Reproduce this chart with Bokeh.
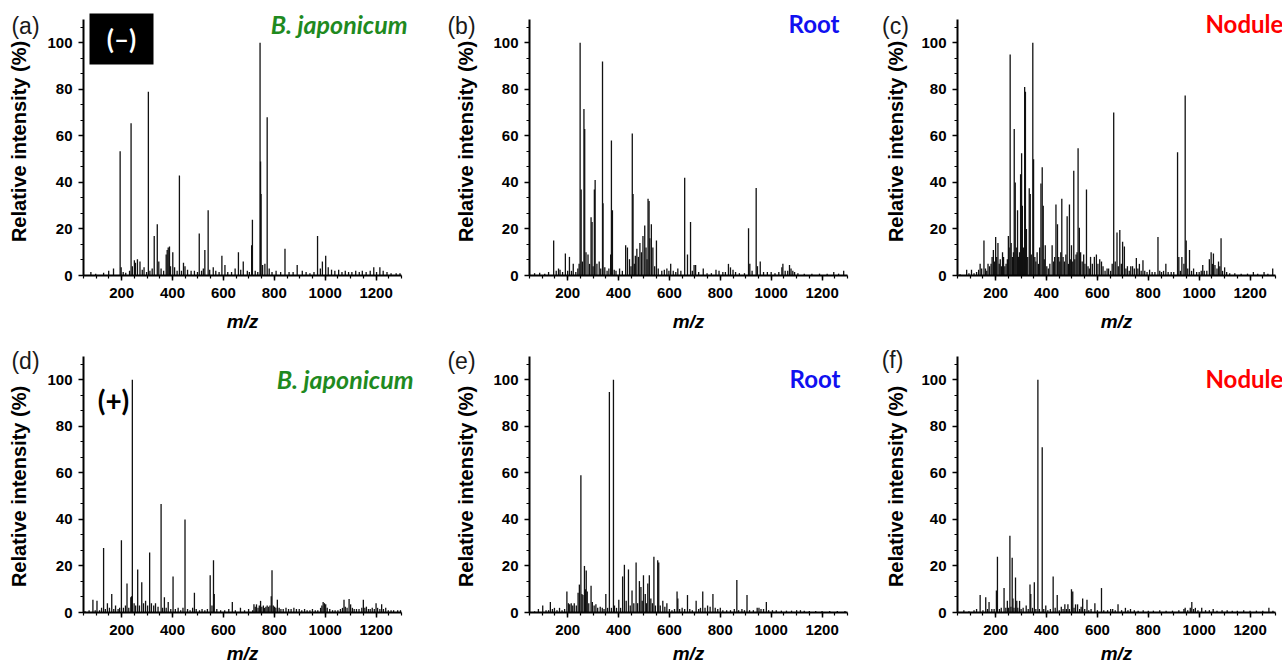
import math
from bokeh.plotting import figure
from bokeh.layouts import row, column
from bokeh.models import Range1d, FixedTicker, Label, BoxAnnotation, ColumnDataSource
from bokeh.embed import file_html
from bokeh.resources import INLINE

# ---------------- data: (m/z, relative intensity %) ----------------
PEAKS_A = [(79,1.5),(98,0.8),(129,1.2),(149,2),(168,3),(194,53.4),(198,3.5),(206,1.5),(216,1.2),(231,2),
           (237,65.4),(242,4),(250,6.5),(254,5.5),(262,7),(272,6),(281,2.5),(288,3.5),(298,1.5),(305,79),
           (311,2),(320,3),(328,17),(340,22),(346,6),(355,3),(365,2),(375,9),(379,11),(383,12),(388,12.5),
           (392,4),(401,10),(408,3.5),(418,2),(427,43),(435,2),(443,5.5),(449,4),(459,2.5),(473,2),(486,2),
           (498,1.5),(505,18),(514,2),(521,3),(527,11),(540,28),(546,2.5),(560,3.5),(570,2),(583,1.5),
           (594,8.5),(606,4.5),(617,1.5),(632,1.5),(646,3),(659,10),(668,2.5),(678,6),(694,2),(702,1.5),
           (711,13),(714,24),(725,2),(735,1.5),(744,100),(746,49),(748,35),(754,4.5),(763,5),(772,68),
           (780,3),(791,1.5),(807,2),(825,1.5),(842,11.5),(858,1.5),(874,1.5),(890,4.5),(910,2),(925,1.5),
           (940,1),(956,1.5),(970,17),(981,3),(989,6),(1002,8.5),(1012,3.5),(1025,2.5),(1038,2),(1053,2.5),
           (1066,1.5),(1079,2),(1092,1.5),(1105,1.5),(1120,2),(1134,1.5),(1146,2),(1161,1.5),(1177,2),
           (1191,3.5),(1202,1.5),(1215,3.5),(1228,2),(1243,1.5),(1259,1),(1279,1),(1294,1)]

PEAKS_B = [(70,1),(90,1.2),(110,0.8),(125,1.5),(145,15),(155,2),(164,3),(170,2.5),(180,1.5),(191,9.5),
           (200,2),(207,8),(215,2),(222,5),(232,1.5),(240,3),(245,5),(249,100),(253,37),(258,6),(264,71.5),
           (267,63),(272,10),(280,9),(286,5),(292,25),(296,23),(300,4),(305,37),(308,41),(315,5),(324,6),
           (330,3),(337,92),(339,31),(346,3.5),(355,2),(362,3),(369,9),(372,58),(376,28),(383,2.5),(390,2),
           (404,3),(415,2),(428,13),(435,12),(443,7),(449,4),(454,61),(457,35),(462,5),(466,8.5),(472,11.5),
           (478,8),(484,14),(490,10),(496,17),(503,21.5),(508,12),(512,7),(516,33),(520,32),(523,16),
           (529,22),(535,12),(542,4),(549,15),(556,3),(570,2),(580,2.5),(590,3),(598,2),(605,5),(615,2),
           (625,1.5),(633,3),(645,2),(660,42),(671,9),(683,23),(690,2),(697,4.5),(703,4.5),(715,1.5),
           (733,3),(748,1),(765,1),(783,2.5),(795,2),(810,1.5),(820,1.5),(832,5),(840,3.5),(850,2.5),
           (860,1.5),(875,1),(895,1),(911,20.3),(916,5),(925,2),(941,37.6),(946,4),(957,6),(970,1.5),
           (985,1.5),(1000,1.5),(1015,1),(1030,1.5),(1042,3.5),(1046,5),(1055,2),(1065,2),(1072,4.5),
           (1078,3),(1085,2),(1092,1.5),(1105,1),(1130,0.8),(1160,0.8),(1190,0.8),(1220,0.8),(1246,1.5),
           (1265,0.8),(1285,2)]

PEAKS_C = [(60,0.5),(86,2.5),(95,1),(105,2.5),(115,1),(125,1.5),(133,2.5),(139,5),(145,3),(154,15),
           (160,3),(165,2),(170,5),(176,4),(182,5),(186,8),(191,11),(196,6),(200,16.5),(204,8),(209,14),
           (214,5),(218,7),(223,4),(227,10),(231,8),(236,4),(241,5),(246,7),(250,17),(253,12),(257,95),
           (261,14),(266,8),(270,10),(273,63),(277,40),(281,12),(286,28),(290,8),(294,10),(298,43.5),
           (302,52.5),(305,30),(309,12),(314,81),(317,79),(321,20),(326,8),(332,37.5),(336,35),(340,9),
           (346,100),(349,50),(354,8),(358,6),(363,10),(368,5),(373,12),(378,39.5),(383,46.5),(387,30),
           (391,7),(395,13),(401,4),(407,3),(413,5),(422,13),(428,6),(432,8),(437,30.5),(443,22),(448,8),
           (452,6),(456,10),(460,33),(465,8),(470,6),(476,9),(481,25.5),(486,5),(490,30.5),(495,7),
           (498,13),(503,6),(507,45),(511,7),(516,9),(520,10),(524,54.7),(529,20.5),(534,10),(540,6),
           (546,9),(551,5),(557,37),(563,4),(568,3),(573,8),(580,5),(588,8),(596,9),(602,5),(609,7),
           (616,6),(622,4),(630,2),(638,3),(644,3),(652,2),(658,5),(664,70),(670,6),(677,18.5),(682,4),
           (688,19.5),(694,5),(699,14.5),(706,12.5),(712,3),(718,4),(725,2),(731,4),(738,4),(745,3),
           (753,7.5),(759,3),(765,5),(772,2),(779,6.5),(786,2),(795,1.5),(805,2.5),(815,1.5),(826,1.5),
           (838,16.5),(845,2),(852,1.5),(860,2),(869,5),(878,1.5),(890,1.5),(900,1.5),(915,53),(920,8),
           (926,2),(932,8),(940,5),(945,77.3),(949,15),(955,3),(962,11),(970,2),(978,3),(990,1.5),
           (1000,1.5),(1008,2),(1014,4.5),(1020,2),(1030,2),(1040,7),(1047,10),(1052,5),(1056,9.5),
           (1062,4.5),(1070,3),(1076,6),(1081,4),(1086,16),(1092,2),(1100,3.5),(1108,1.5),(1120,1),
           (1140,1),(1165,0.8),(1190,0.8),(1213,1.5),(1230,0.8),(1255,1.5),(1270,0.8),(1289,3)]

PEAKS_D = [(56,0.5),(72,1),(87,5.5),(96,1),(103,5),(113,1),(121,2),(129,27.7),(136,1.5),(144,4),
           (152,2),(161,8),(169,1.5),(176,3),(186,1.5),(192,2),(199,31),(207,2),(215,3),(221,12.5),
           (228,2),(236,6.5),(239,7),(242,100),(249,4),(255,3),(263,18.5),(270,3),(279,13),(286,4),
           (294,5),(302,3),(310,25.8),(317,4),(326,3),(333,4),(343,2.5),(355,46.6),(361,2),(368,6.5),
           (375,2),(383,4.5),(393,1.5),(402,15.5),(411,1.5),(422,2),(432,1),(441,2),(449,40),(459,1.5),
           (469,1),(479,2),(486,8.5),(493,1.5),(506,1),(516,1.5),(527,1),(537,1.5),(548,16),(555,3),
           (561,22.4),(564,8),(574,1.5),(589,1),(605,1),(621,1.5),(635,4.5),(647,1),(667,2),(683,1),
           (699,1.5),(715,1),(720,3.5),(725,2.5),(730,3.5),(736,2),(741,3),(746,5),(751,2.5),(757,3),
           (762,2),(767,2.5),(772,3),(778,2.5),(783,3),(788,7),(791,18.2),(796,3),(801,2.5),(806,2),
           (812,5.5),(819,2),(826,1.5),(835,1.5),(846,2),(856,1.5),(866,1.5),(877,2),(887,1.5),(898,1.5),
           (908,1),(919,1.5),(929,1),(940,1),(950,1.5),(961,1),(971,1),(982,2),(987,3),(992,4.5),(997,4),
           (1002,3.5),(1008,2),(1018,1.5),(1029,1),(1039,1),(1050,1),(1060,1.5),(1068,2),(1074,5.5),
           (1079,2.5),(1086,2),(1094,5.8),(1100,3.5),(1107,2),(1114,1.5),(1123,1.5),(1133,1.5),(1144,2),
           (1150,5.5),(1156,2),(1162,2.5),(1170,1.5),(1177,1.5),(1185,2),(1193,1.5),(1200,4),(1206,2),
           (1215,1.5),(1222,3.5),(1229,1.5),(1238,2),(1248,1),(1259,1),(1269,1),(1285,1),(1296,1)]

PEAKS_E = [(70,0.5),(85,1.5),(102,3),(115,1),(125,1),(132,4.5),(140,1.5),(148,2),(158,1),(168,2),
           (178,1),(188,1.5),(197,9),(203,4),(208,3.5),(214,4),(220,3),(226,4),(234,3),(241,8.5),
           (246,12),(252,59),(256,8),(260,7.5),(266,20),(270,10),(273,18),(277,9),(283,4),(292,11.5),
           (297,4.5),(304,3),(311,3.5),(318,2),(328,2.5),(336,2),(343,1.5),(350,8),(357,2),(364,94.7),
           (372,2),(380,100),(384,3),(392,2),(401,5.5),(408,2),(416,15.5),(423,20.5),(430,5),(439,18.5),
           (446,3),(453,9.5),(460,4),(469,21.5),(475,4),(482,13.5),(488,11),(493,5),(498,16),(505,8),
           (510,4),(515,12.5),(521,16),(527,6),(533,4),(539,24),(545,3),(554,22.5),(558,21.5),(564,3),
           (574,5),(582,2.5),(590,4),(600,1.5),(610,1),(620,1.5),(630,9),(633,6),(640,1.5),(650,2),
           (660,1.5),(671,7.5),(680,1.5),(690,1),(705,5),(715,1.5),(722,2),(731,9),(740,2),(750,3),
           (760,2.5),(771,8),(780,2),(790,1.5),(800,2),(810,1),(825,1),(840,1),(855,1.5),(865,14),
           (872,1),(885,1.5),(895,1),(905,7.5),(915,1),(930,1),(945,2),(952,2),(960,1.5),(970,1.5),
           (981,4.5),(990,1),(1005,1),(1020,1),(1040,0.8),(1060,0.8),(1080,0.8),(1100,1),(1115,1),
           (1130,0.8),(1150,0.6),(1175,0.6),(1200,0.6),(1230,0.6),(1260,0.6),(1290,0.6)]

PEAKS_F = [(75,1),(95,0.5),(115,1),(125,1.5),(139,7.5),(150,1),(161,6.5),(168,1.5),(174,4.5),(185,1.5),
           (194,1.5),(203,9.5),(207,24),(215,1.5),(222,2),(233,10.5),(240,2),(246,5),(251,2),(256,33),
           (260,2.5),(265,23.5),(268,6),(272,2),(278,15),(283,5),(287,2),(294,5),(300,1.5),(308,2),
           (320,3),(328,1.5),(335,12),(338,8),(345,2),(352,13),(358,1.5),(366,100),(372,1.5),(383,71),
           (389,1.5),(397,3),(405,1),(415,1.5),(426,15.5),(434,2),(442,7.5),(450,1),(458,2.5),(465,1.5),
           (472,3.5),(478,1.5),(484,3.5),(490,1.5),(498,10),(503,9),(508,2),(514,3.5),(522,3.5),
           (530,1.5),(536,2.5),(542,6),(550,1.5),(559,5.5),(566,1),(575,1.5),(590,4),(600,1),(616,10.5),
           (625,1),(640,1),(652,1.5),(660,1.5),(670,1),(681,3.5),(695,1),(710,2),(720,1),(730,1.5),
           (745,1),(760,0.8),(780,1),(800,0.8),(820,0.8),(845,1),(870,0.8),(895,0.8),(920,1),(940,1.5),
           (945,2),(955,1),(965,2),(971,4.5),(978,1.5),(985,2),(995,1),(1010,2),(1025,1),(1040,1),
           (1055,1.5),(1070,0.8),(1090,1),(1110,1),(1130,0.8),(1150,0.8),(1175,1),(1200,0.8),(1225,0.8),
           (1250,0.8),(1274,2),(1290,0.8)]

PANEL_LABELS = ["(a)", "(b)", "(c)", "(d)", "(e)", "(f)"]
TITLES = ["B. japonicum", "Root", "Nodule", "B. japonicum", "Root", "Nodule"]
TITLE_COLORS = ["#1F8A1F", "#1010F0", "#FF0000", "#1F8A1F", "#1010F0", "#FF0000"]
MODE_LABELS = ["(\u2013)", "(+)"]
X_MAJOR = [200, 400, 600, 800, 1000, 1200]
Y_MAJOR = [0, 20, 40, 60, 80, 100]
X_LABEL = "m/z"
Y_LABEL = "Relative intensity (%)"

# ---------------- layout (pixels) ----------------
FONT = "Liberation Sans"
TFONT = "Lato"
XMIN, XMAX = 50, 1300
YAX_MAX = 110
S = 318 / (XMAX - XMIN)      # px per m/z unit
T = 256 / 110                # px per % unit

COL_W = [430, 430, 422]
COL_L = [83, 99, 97]         # y-axis position inside each figure
ROW_H = [334, 329]
ROW_Y0 = [275, 278]          # y=0 position inside each figure

LETTER_POS = [[(25, 25), (31, 25), (35, 25)], [(25, 26), (31, 26), (32, 25)]]
TITLE_CY = [23, 44]
TITLE_ANCHOR = [(407, "right"), (409, "right"), (345, "left")]
TITLE_ANCHOR2 = [(413, "right"), (410, "right"), (345, "left")]
YLAB_X = [18, 35, 35]
YLAB_Y = [141, 152]
XLAB_Y = [321, 319]


def make_panel(peaks, r, c):
    idx = r * 3 + c
    W, H, L, Y0 = COL_W[c], ROW_H[r], COL_L[c], ROW_Y0[r]
    xd = lambda px: XMIN + (px - L) / S
    yd = lambda py: (Y0 - py) / T

    p = figure(width=W, height=H, x_range=Range1d(xd(0), xd(W)), y_range=Range1d(yd(H), yd(0)),
               output_backend="svg", toolbar_location=None, min_border=0,
               min_border_left=0, min_border_right=0, min_border_top=0, min_border_bottom=0)
    p.outline_line_color = None
    p.xgrid.visible = False
    p.ygrid.visible = False

    src = ColumnDataSource(dict(mz=[m for m, _ in peaks], inten=[v for _, v in peaks]))
    p.segment(x0="mz", y0=0, x1="mz", y1="inten", source=src, line_color="#111111", line_width=1.3)

    p.xaxis.fixed_location = 0
    p.yaxis.fixed_location = XMIN
    p.xaxis.ticker = FixedTicker(ticks=X_MAJOR, minor_ticks=list(range(50, 1301, 50)))
    p.yaxis.ticker = FixedTicker(ticks=Y_MAJOR, minor_ticks=[k * 20 / 3 for k in range(0, 17)])
    p.xaxis.bounds = (XMIN, XMAX)
    p.yaxis.bounds = (0, YAX_MAX)
    for ax in (p.xaxis, p.yaxis):
        ax.axis_line_width = 2
        ax.axis_line_color = "black"
        ax.major_tick_line_width = 1.5
        ax.minor_tick_line_width = 1.2
        ax.major_tick_line_color = "black"
        ax.minor_tick_line_color = "black"
        ax.major_tick_in = 0
        ax.major_tick_out = 5
        ax.minor_tick_in = 0
        ax.minor_tick_out = 3
        ax.major_label_text_font = FONT
        ax.major_label_text_font_style = "bold"
        ax.major_label_text_font_size = "15px"
        ax.major_label_text_color = "black"
    p.xaxis.major_label_standoff = 7
    p.yaxis.major_label_standoff = 6

    # axis titles
    p.add_layout(Label(x=xd(L + 159), y=yd(XLAB_Y[r]), text=X_LABEL, text_align="center",
                       text_baseline="middle", text_font=FONT, text_font_size="19px",
                       text_font_style="bold italic", text_color="black"))
    p.add_layout(Label(x=xd(YLAB_X[c]), y=yd(YLAB_Y[r]), text=Y_LABEL, angle=math.pi / 2,
                       text_align="center", text_baseline="middle", text_font=FONT,
                       text_font_size="20px", text_font_style="bold", text_color="black"))
    # panel letter
    lx, ly = LETTER_POS[r][c]
    p.add_layout(Label(x=xd(lx), y=yd(ly), text=PANEL_LABELS[idx], text_align="center",
                       text_baseline="middle", text_font=FONT, text_font_size="23px",
                       text_color="#1a1a1a"))
    # title
    tx, ta = (TITLE_ANCHOR if r == 0 else TITLE_ANCHOR2)[c]
    p.add_layout(Label(x=xd(tx), y=yd(TITLE_CY[r]), text=TITLES[idx], text_align=ta,
                       text_baseline="middle", text_font=TFONT,
                       text_font_size="25px" if c == 0 else "24px",
                       text_font_style="bold italic" if c == 0 else "bold",
                       text_color=TITLE_COLORS[idx]))
    # ion-mode markers
    if c == 0 and r == 0:
        p.add_layout(BoxAnnotation(left=xd(89), right=xd(153), bottom=yd(64), top=yd(13),
                                   fill_color="black", fill_alpha=1.0, line_color=None))
        p.add_layout(Label(x=xd(121), y=yd(38), text=MODE_LABELS[0], text_align="center",
                           text_baseline="middle", text_font=TFONT, text_font_size="26px",
                           text_font_style="bold", text_color="white"))
    if c == 0 and r == 1:
        p.add_layout(Label(x=xd(113), y=yd(65), text=MODE_LABELS[1], text_align="center",
                           text_baseline="middle", text_font=TFONT, text_font_size="28px",
                           text_font_style="bold", text_color="black"))
    return p


panels = [PEAKS_A, PEAKS_B, PEAKS_C, PEAKS_D, PEAKS_E, PEAKS_F]
figs = [make_panel(panels[i], i // 3, i % 3) for i in range(6)]
layout = column(row(*figs[:3]), row(*figs[3:]))

open("out.html", "w").write(file_html(layout, INLINE))
